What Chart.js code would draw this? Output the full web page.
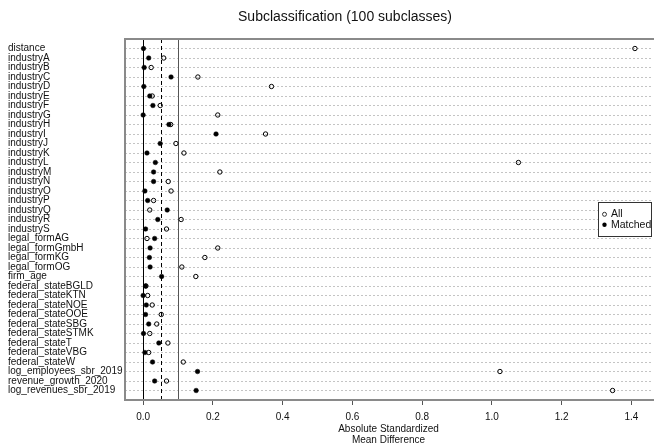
<!DOCTYPE html>
<html>
<head>
<meta charset="utf-8">
<script src="https://cdn.jsdelivr.net/npm/chart.js@4/dist/chart.umd.min.js"></script>
<style>
  body { margin: 0; background: #fff; }
  #wrap { width: 657px; height: 444px; }
</style>
</head>
<body>
<div id="wrap"><canvas id="loveChart"></canvas></div>
<script>
const covariates = ["distance", "industryA", "industryB", "industryC", "industryD", "industryE", "industryF",
  "industryG", "industryH", "industryI", "industryJ", "industryK", "industryL", "industryM", "industryN",
  "industryO", "industryP", "industryQ", "industryR", "industryS", "legal_formAG", "legal_formGmbH",
  "legal_formKG", "legal_formOG", "firm_age", "federal_stateBGLD", "federal_stateKTN", "federal_stateNOE",
  "federal_stateOOE", "federal_stateSBG", "federal_stateSTMK", "federal_stateT", "federal_stateVBG",
  "federal_stateW", "log_employees_sbr_2019", "revenue_growth_2020", "log_revenues_sbr_2019"];
const allValues = [1.41, 0.059, 0.023, 0.157, 0.368, 0.026, 0.049, 0.214, 0.079, 0.351, 0.094, 0.117, 1.076,
  0.220, 0.072, 0.080, 0.030, 0.019, 0.109, 0.067, 0.011, 0.214, 0.177, 0.111, 0.151, 0.008, 0.013, 0.026,
  0.052, 0.039, 0.019, 0.071, 0.016, 0.115, 1.023, 0.067, 1.346];
const matchedValues = [0.001, 0.016, 0.003, 0.080, 0.002, 0.019, 0.028, 0.000, 0.074, 0.209, 0.049, 0.011, 0.035,
  0.030, 0.030, 0.005, 0.013, 0.069, 0.042, 0.007, 0.033, 0.020, 0.018, 0.020, 0.053, 0.007, 0.000, 0.009,
  0.007, 0.016, 0.001, 0.045, 0.005, 0.027, 0.156, 0.033, 0.152];
const xTicks = [0, 0.2, 0.4, 0.6, 0.8, 1.0, 1.2, 1.4];
const refLines = [0, 0.05, 0.1];
const chartTitle = "Subclassification (100 subclasses)";

const FONT = "'Liberation Sans', Arial, sans-serif";

// title, vertical reference lines, plot box and legend
const extras = {
  id: "extras",
  beforeDatasetsDraw(chart) {
    const { ctx, chartArea: a, scales: { x } } = chart;
    ctx.save();
    ctx.lineWidth = 1;
    refLines.forEach((v, i) => {
      const px = Math.round(x.getPixelForValue(v)) + 0.5;
      ctx.strokeStyle = i === 2 ? "#555" : "#000";
      ctx.setLineDash(i === 1 ? [4, 3] : []);
      ctx.beginPath();
      ctx.moveTo(px, a.top);
      ctx.lineTo(px, a.bottom);
      ctx.stroke();
    });
    ctx.restore();
  },
  afterDraw(chart) {
    const { ctx, chartArea: a } = chart;
    ctx.save();
    ctx.fillStyle = "#111";
    ctx.font = "14px " + FONT;
    ctx.textAlign = "center";
    ctx.textBaseline = "middle";
    ctx.fillText(chartTitle, 345, 17);

    ctx.strokeStyle = "#8a8a8a";
    ctx.lineWidth = 2;
    ctx.beginPath();
    ctx.moveTo(a.right + 2, a.top);
    ctx.lineTo(a.left, a.top);
    ctx.lineTo(a.left, a.bottom);
    ctx.lineTo(a.right + 2, a.bottom);
    ctx.stroke();

    // legend
    const lx = 598.5, ly = 202.5;
    ctx.fillStyle = "#fff";
    ctx.fillRect(lx, ly, 53, 34);
    ctx.strokeStyle = "#333";
    ctx.lineWidth = 1;
    ctx.strokeRect(lx, ly, 53, 34);
    ctx.beginPath();
    ctx.arc(604.5, 214.3, 2, 0, Math.PI * 2);
    ctx.stroke();
    ctx.fillStyle = "#000";
    ctx.beginPath();
    ctx.arc(604.5, 224.8, 2.2, 0, Math.PI * 2);
    ctx.fill();
    ctx.font = "10.5px " + FONT;
    ctx.textAlign = "left";
    ctx.fillStyle = "#111";
    ctx.fillText("All", 611, 214.5);
    ctx.fillText("Matched", 611, 225);
    ctx.restore();
  }
};

new Chart("loveChart", {
  type: "scatter",
  data: {
    datasets: [{
      label: "All",
      data: allValues.map((v, i) => ({ x: v, y: i })),
      backgroundColor: "rgba(255,255,255,0)",
      borderColor: "#000",
      borderWidth: 1,
      pointRadius: 2.2,
      order: 2
    }, {
      label: "Matched",
      data: matchedValues.map((v, i) => ({ x: v, y: i })),
      backgroundColor: "#000",
      borderColor: "#000",
      borderWidth: 0.5,
      pointRadius: 2.3,
      order: 1
    }]
  },
  options: {
    responsive: true,
    maintainAspectRatio: false,
    animation: false,
    layout: { padding: { left: 8, right: 0, top: 39, bottom: 0 } },
    plugins: {
      legend: { display: false },
      tooltip: { enabled: false },
      title: { display: false }
    },
    scales: {
      x: {
        type: "linear",
        min: -0.052,
        max: 1.459,
        afterBuildTicks: s => { s.ticks = xTicks.map(v => ({ value: v })); },
        afterFit: s => { s.height = 44; },
        ticks: {
          color: "#111",
          font: { family: FONT, size: 10 },
          padding: 6,
          callback: v => v.toFixed(1)
        },
        grid: { drawOnChartArea: false, drawTicks: true, tickLength: 5, color: "#555" },
        border: { display: false },
        title: {
          display: true,
          text: ["Absolute Standardized", "Mean Difference"],
          color: "#111",
          font: { family: FONT, size: 10, lineHeight: 1.1 },
          padding: { top: 0, bottom: -2 }
        }
      },
      y: {
        type: "linear",
        reverse: true,
        min: -1,
        max: covariates.length,
        afterBuildTicks: s => { s.ticks = covariates.map((c, i) => ({ value: i })); },
        afterFit: s => { s.width = 117; },
        ticks: {
          autoSkip: false,
          crossAlign: "far",
          color: "#111",
          font: { family: FONT, size: 10 },
          callback: v => covariates[v]
        },
        grid: { drawTicks: false, color: "#c4c4c4", lineWidth: 1 },
        border: { display: false, dash: [2, 2] }
      }
    }
  },
  plugins: [extras]
});
</script>
</body>
</html>
